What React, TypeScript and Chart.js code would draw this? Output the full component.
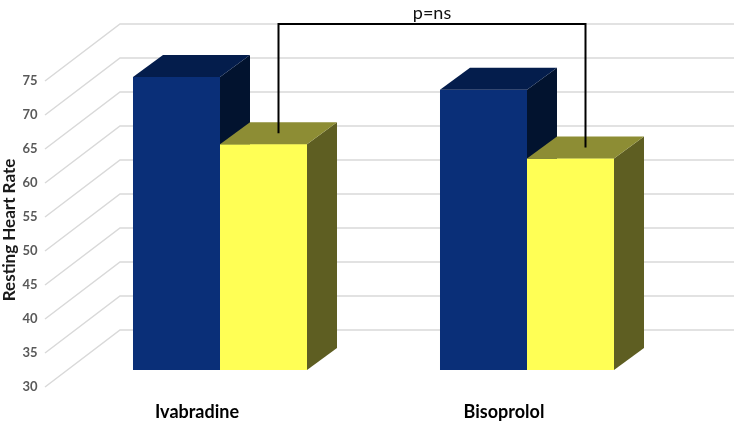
import React, { useEffect, useRef } from "react";
import { Chart, registerables } from "chart.js";

Chart.register(...registerables);

const categories = ["Ivabradine", "Bisoprolol"];
const seriesNames = ["Before", "After"];
const seriesBefore = [73.1, 71.2];
const seriesAfter = [63.2, 61.1];
const yTicks = [30, 35, 40, 45, 50, 55, 60, 65, 70, 75];
const yTitle = "Resting Heart Rate";
const bracketText = "p=ns";

const frontColors = ["#0A2F78", "#FFFF55"];
const topColors = ["#041D4C", "#8D8D34"];
const sideColors = ["#02132F", "#5E5E22"];

const DX = 30;
const DY = -22;

function drawFaces(ctx: any, el: any, i: number, bottom: number) {
  const { x, y, base, width } = el.getProps(["x", "y", "base", "width"], true);
  const b = Math.min(base, bottom);
  const l = x - width / 2;
  const r = x + width / 2;
  ctx.fillStyle = sideColors[i];
  ctx.beginPath();
  ctx.moveTo(r, y);
  ctx.lineTo(r + DX, y + DY);
  ctx.lineTo(r + DX, b + DY);
  ctx.lineTo(r, b);
  ctx.closePath();
  ctx.fill();
  ctx.fillStyle = topColors[i];
  ctx.beginPath();
  ctx.moveTo(l, y);
  ctx.lineTo(l + DX, y + DY);
  ctx.lineTo(r + DX, y + DY);
  ctx.lineTo(r, y);
  ctx.closePath();
  ctx.fill();
}

const threeD = {
  id: "threeD",
  beforeDatasetsDraw(chart: any) {
    const { ctx, chartArea, scales } = chart;
    const y = scales.y;
    ctx.save();
    ctx.strokeStyle = "#D9D9D9";
    ctx.lineWidth = 1.5;
    const xBackL = chartArea.left + 53.5;
    const xFront = chartArea.left - 21.5;
    yTicks.forEach((v) => {
      const p = y.getPixelForValue(v);
      ctx.beginPath();
      ctx.moveTo(xFront, p + 17);
      ctx.lineTo(xBackL, p - 40);
      ctx.lineTo(chart.width, p - 40);
      ctx.stroke();
    });
    ctx.restore();
  },
  afterDatasetsDraw(chart: any) {
    const { ctx, chartArea } = chart;
    const m0 = chart.getDatasetMeta(0);
    const m1 = chart.getDatasetMeta(1);
    ctx.save();
    m0.data.forEach((el0: any, k: number) => {
      const el1 = m1.data[k];
      drawFaces(ctx, el0, 0, chartArea.bottom);
      ctx.save();
      ctx.beginPath();
      ctx.rect(chartArea.left, chartArea.top - 100, chartArea.right - chartArea.left, chartArea.bottom - chartArea.top + 100);
      ctx.clip();
      el1.draw(ctx, chartArea);
      ctx.restore();
      drawFaces(ctx, el1, 1, chartArea.bottom);
    });
    ctx.restore();
  },
  afterDraw(chart: any) {
    const { ctx, chartArea } = chart;
    const meta = chart.getDatasetMeta(1);
    const pts = meta.data.map((el: any) => {
      const { x, y } = el.getProps(["x", "y"], true);
      return { x: x + DX / 2, y: y + DY / 2 };
    });
    const topY = 24;
    ctx.save();
    ctx.strokeStyle = "#000000";
    ctx.lineWidth = 2;
    ctx.beginPath();
    ctx.moveTo(pts[0].x, pts[0].y);
    ctx.lineTo(pts[0].x, topY);
    ctx.lineTo(pts[1].x, topY);
    ctx.lineTo(pts[1].x, pts[1].y);
    ctx.stroke();
    ctx.fillStyle = "#111111";
    ctx.font = "18px Lato";
    ctx.textAlign = "center";
    ctx.textBaseline = "middle";
    ctx.fillText(bracketText, (pts[0].x + pts[1].x) / 2, 13);
    const yc = (chartArea.top + chartArea.bottom) / 2 + 13;
    ctx.translate(10, yc);
    ctx.rotate(-Math.PI / 2);
    ctx.font = "bold 17px Lato";
    ctx.fillStyle = "#1A1A1A";
    ctx.fillText(yTitle, 0, 0);
    ctx.restore();
  },
};

export default function App() {
  const ref = useRef<HTMLCanvasElement>(null);
  useEffect(() => {
    if (!ref.current) return;
    const chart = new Chart(ref.current, {
      type: "bar",
      data: {
        labels: categories,
        datasets: [
          { label: seriesNames[0], data: seriesBefore, backgroundColor: frontColors[0] },
          { label: seriesNames[1], data: seriesAfter, backgroundColor: frontColors[1] },
        ],
      },
      options: {
        animation: false,
        responsive: true,
        maintainAspectRatio: false,
        layout: { padding: { left: 0, top: 64, right: 53.5, bottom: 0 } },
        datasets: { bar: { categoryPercentage: 0.5668, barPercentage: 1 } },
        plugins: { legend: { display: false }, tooltip: { enabled: false } },
        scales: {
          x: {
            grid: { display: false, drawTicks: false },
            border: { display: false },
            afterFit: (s: any) => { s.height = 53; },
            ticks: {
              padding: 31,
              labelOffset: -23,
              color: "#000000",
              font: { family: "Lato", size: 18, weight: "bold" },
            },
          },
          y: {
            min: 30,
            max: 75,
            grid: { display: false, drawTicks: false },
            border: { display: false },
            afterFit: (s: any) => { s.width = 66.5; },
            ticks: {
              stepSize: 5,
              padding: 29,
              labelOffset: 17,
              color: "#595959",
              font: { family: "Lato", size: 13, weight: "bold" },
            },
          },
        },
      },
      plugins: [threeD],
    });
    return () => chart.destroy();
  }, []);
  return (
    <div style={{ position: "absolute", left: 0, top: 0, width: 734, height: 423, background: "#fff" }}>
      <canvas ref={ref} />
    </div>
  );
}
